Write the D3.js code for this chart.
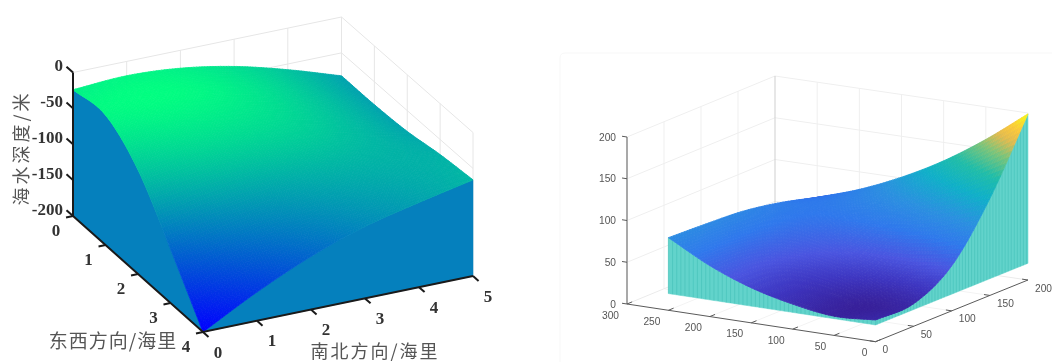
<!DOCTYPE html>
<html>
<head>
<meta charset="utf-8">
<script src="https://cdn.jsdelivr.net/npm/d3@7/dist/d3.min.js"></script>
<style>
  html, body { margin: 0; padding: 0; background: #fff; overflow: hidden; }
  svg { display: block; }
</style>
</head>
<body>
<svg id="chart" width="1052" height="362"></svg>
<script>
// left panel: sea depth (rows = east-west 0..4, columns = north-south 0..5)
const eastWest = [0, 1, 2, 3, 4];
const northSouth = [0, 1, 2, 3, 4, 5];
const depthTicks = [0, -50, -100, -150, -200];
const depth = [
    [-24, -20, -25, -38, -58, -82],
    [-19, -16, -22, -37, -58, -82],
    [-55, -44, -43, -48, -62, -79],
    [-125, -102, -87, -75, -71, -71],
    [-200, -160, -126, -100, -82, -66]
];

// right panel: rows = a 0..250, columns = b 0..200
const aGrid = [0, 50, 100, 150, 200, 250];
const bGrid = [0, 50, 100, 150, 200];
const aTicks = [0, 50, 100, 150, 200, 250, 300];
const bTicks = [0, 50, 100, 150, 200];
const heightTicks = [0, 50, 100, 150, 200];
const height = [
    [26, 27, 54, 116, 199],
    [23, 24, 47, 96, 161],
    [30, 31, 47, 82, 128],
    [42, 42, 53, 74, 101],
    [61, 60, 64, 71, 79],
    [87, 85, 82, 74, 62]
];
const wallBase = 20;

const colorLevels = [22, 35, 50, 70, 90, 115, 135, 155, 170, 182, 194];
const colorStops = ["#37209a", "#3d35c0", "#4a55e0", "#2f78ec", "#2b8fe0", "#0fb0c8", "#20bda8", "#7cc47a", "#e0bb50", "#fbc83a", "#f5ee20"];

const svg = d3.select("#chart");

// floor corners are given as [u0 v0, u1 v0, u0 v1, u1 v1]
function makeProjection(uDomain, vDomain, zDomain, corners, zPixels) {
    const u = d3.scaleLinear().domain(uDomain).range([0, 1]);
    const v = d3.scaleLinear().domain(vDomain).range([0, 1]);
    const z = d3.scaleLinear().domain(zDomain).range([0, zPixels]);
    return (a, b, c) => {
        const s = u(a), t = v(b);
        const x = (1 - t) * ((1 - s) * corners[0][0] + s * corners[1][0]) + t * ((1 - s) * corners[2][0] + s * corners[3][0]);
        const y = (1 - t) * ((1 - s) * corners[0][1] + s * corners[1][1]) + t * ((1 - s) * corners[2][1] + s * corners[3][1]);
        return [x, y - z(c)];
    };
}

function catmull(vals, f) {
    const n = vals.length - 1;
    const i = Math.min(Math.floor(f), n - 1), t = f - i;
    const p0 = i > 0 ? vals[i - 1] : 2 * vals[0] - vals[1];
    const p1 = vals[i], p2 = vals[i + 1];
    const p3 = i + 2 <= n ? vals[i + 2] : 2 * vals[n] - vals[n - 1];
    return 0.5 * (2 * p1 + (p2 - p0) * t + (2 * p0 - 5 * p1 + 4 * p2 - p3) * t * t + (3 * p1 - p0 - 3 * p2 + p3) * t * t * t);
}

// value of a table at fractional row, col
function lookup(table, r, c) {
    return catmull(table.map(row => catmull(row, c)), r);
}

const line = d3.line();

function drawSurface(g, table, us, vs, proj, color, sub, uOrder, vOrder) {
    const uPos = d3.scaleLinear().domain([0, us.length - 1]).range([us[0], us[us.length - 1]]);
    const vPos = d3.scaleLinear().domain([0, vs.length - 1]).range([vs[0], vs[vs.length - 1]]);
    const quads = [];
    const nu = (us.length - 1) * sub, nv = (vs.length - 1) * sub;
    d3.range(nu).forEach(i => d3.range(nv).forEach(j => {
        const r0 = i / sub, r1 = (i + 1) / sub, c0 = j / sub, c1 = (j + 1) / sub;
        const zs = [[r0, c0], [r1, c0], [r1, c1], [r0, c1]].map(d => lookup(table, d[0], d[1]));
        const pts = [[r0, c0], [r1, c0], [r1, c1], [r0, c1]].map((d, k) => proj(uPos(d[0]), vPos(d[1]), zs[k]));
        quads.push({ i, j, pts, z: d3.mean(zs) });
    }));
    quads.sort((a, b) => uOrder * (a.i - b.i) || vOrder * (a.j - b.j));
    g.selectAll("path.cell")
        .data(quads)
        .join("path")
        .attr("class", "cell")
        .attr("d", d => line(d.pts) + "Z")
        .attr("fill", d => color(d.z))
        .attr("stroke", d => color(d.z))
        .attr("stroke-width", 0.8);
}

// curtain below one edge of the surface
function edgePoints(table, us, vs, proj, edge, base, sub) {
    const uPos = d3.scaleLinear().domain([0, us.length - 1]).range([us[0], us[us.length - 1]]);
    const vPos = d3.scaleLinear().domain([0, vs.length - 1]).range([vs[0], vs[vs.length - 1]]);
    const n = (edge.along == "u" ? us.length - 1 : vs.length - 1) * sub;
    return d3.range(n + 1).map(k => {
        const f = k / sub;
        const r = edge.along == "u" ? f : edge.row;
        const c = edge.along == "u" ? edge.col : f;
        const a = uPos(r), b = vPos(c);
        return { top: proj(a, b, lookup(table, r, c)), bottom: proj(a, b, base) };
    });
}

function drawWall(g, pts, fill) {
    g.append("path")
        .attr("d", line(pts.map(d => d.top).concat(pts.map(d => d.bottom).reverse())) + "Z")
        .attr("fill", fill)
        .attr("stroke", fill)
        .attr("stroke-width", 0.5);
}

function gridLine(g, pts, col, w) {
    g.append("path").attr("d", line(pts)).attr("fill", "none").attr("stroke", col).attr("stroke-width", w);
}

function label(g, txt, p, anchor, font, size, weight, col) {
    return g.append("text")
        .attr("x", p[0]).attr("y", p[1])
        .attr("text-anchor", anchor)
        .attr("dominant-baseline", "central")
        .attr("font-family", font)
        .attr("font-size", size)
        .attr("font-weight", weight)
        .attr("fill", col)
        .text(txt);
}

// ---------- left panel
(function () {
    const g = svg.append("g").style("filter", "blur(0.35px)");
    const proj = makeProjection([0, 4], [0, 5], [-200, 0],
        [[73, 216], [203, 332], [341.5, 160.5], [473, 276]], 143.5);
    const color = d3.scaleLinear().domain([-200, -14]).range(["#0000ff", "#00ff80"]).clamp(true);
    const gridCol = "#e6e6e6";

    depthTicks.forEach(z => {
        gridLine(g, [proj(0, 0, z), proj(0, 5, z), proj(4, 5, z)], gridCol, 1);
    });
    northSouth.slice(1).forEach(n => gridLine(g, [proj(0, n, -200), proj(0, n, 0)], gridCol, 1));
    eastWest.slice(1).forEach(e => gridLine(g, [proj(e, 5, -200), proj(e, 5, 0)], gridCol, 1));

    const wall = "#0580bd";
    drawWall(g, edgePoints(depth, eastWest, northSouth, proj, { along: "u", col: 0 }, -200, 20), wall);
    drawWall(g, edgePoints(depth, eastWest, northSouth, proj, { along: "v", row: 4 }, -200, 20), wall);
    drawSurface(g, depth, eastWest, northSouth, proj, color, 20, 1, -1);

    const ax = "#1a1a1a";
    gridLine(g, [proj(0, 0, 0), proj(0, 0, -200)], ax, 2);
    gridLine(g, [proj(0, 0, -200), proj(4, 0, -200), proj(4, 5, -200)], ax, 2);
    depthTicks.forEach(z => gridLine(g, [proj(0, 0, z), proj(-0.2, 0, z)], ax, 2));
    eastWest.forEach(e => gridLine(g, [proj(e, 0, -200), proj(e, -0.13, -200)], ax, 2));
    northSouth.forEach(n => gridLine(g, [proj(4, n, -200), proj(4.17, n, -200)], ax, 2));

    const serif = "'Liberation Serif', serif";
    depthTicks.forEach(z => {
        const p = proj(0, 0, z);
        label(g, z, [63, p[1] - 7], "end", serif, 17, "bold", "#333");
    });
    eastWest.forEach(e => {
        const p = proj(e, 0, -200);
        label(g, e, [p[0] - 17, p[1] + 14], "middle", serif, 17, "bold", "#333");
    });
    northSouth.forEach(n => {
        const p = proj(4, n, -200);
        label(g, n, [p[0] + 15, p[1] + 20], "middle", serif, 17, "bold", "#333");
    });

    const cjk = "'Noto Sans CJK SC', sans-serif";
    label(g, "东西方向/海里", [113, 339], "middle", cjk, 19, "normal", "#555").attr("letter-spacing", 1);
    label(g, "南北方向/海里", [375, 350], "middle", cjk, 18, "normal", "#555").attr("letter-spacing", 2);
    g.append("text")
        .attr("transform", "translate(20,148) rotate(-90)")
        .attr("text-anchor", "middle")
        .attr("dominant-baseline", "central")
        .attr("font-family", cjk)
        .attr("font-size", 18)
        .attr("letter-spacing", 3)
        .attr("fill", "#555")
        .text("海水深度/米");
})();

// ---------- right panel
(function () {
    const g = svg.append("g").style("filter", "blur(0.3px)");
    const proj = makeProjection([0, 300], [0, 200], [0, 200],
        [[875.5, 341.7], [627, 304], [1028, 280], [775, 243]], 167);
    const color = d3.scaleLinear().domain(colorLevels).range(colorStops).clamp(true);

    // faint figure frame
    g.append("path").attr("d", "M560,362V58Q560,53 565,53H1052").attr("fill", "none").attr("stroke", "#f7f7f7");

    const gridCol = "#efefef";
    heightTicks.slice(1).forEach(z => gridLine(g, [proj(300, 0, z), proj(300, 200, z), proj(0, 200, z)], gridCol, 1));
    bTicks.slice(1, -1).forEach(b => gridLine(g, [proj(300, b, 0), proj(300, b, 200)], gridCol, 1));
    aTicks.slice(1, -1).forEach(a => gridLine(g, [proj(a, 200, 0), proj(a, 200, 200)], gridCol, 1));
    gridLine(g, [proj(300, 200, 0), proj(300, 200, 200)], "#cfcfcf", 1);
    aTicks.slice(1, -1).forEach(a => gridLine(g, [proj(a, 0, 0), proj(a, 200, 0)], "#f3f3f3", 1));
    bTicks.slice(1, -1).forEach(b => gridLine(g, [proj(0, b, 0), proj(300, b, 0)], "#f3f3f3", 1));
    gridLine(g, [proj(300, 0, 0), proj(300, 200, 0), proj(0, 200, 0)], "#ebebeb", 1);

    const wall = "#62d3cb";
    const wallA = edgePoints(height, aGrid, bGrid, proj, { along: "u", col: 0 }, wallBase, 20);
    const wallB = edgePoints(height, aGrid, bGrid, proj, { along: "v", row: 0 }, wallBase, 25);
    drawWall(g, wallA, wall);
    drawWall(g, wallB, wall);
    // mesh stripes on the curtains
    wallA.concat(wallB).forEach((d, i) => {
        if (i % 2 == 0) gridLine(g, [d.top, d.bottom], "#3fbdb5", 0.5);
    });
    drawSurface(g, height, aGrid, bGrid, proj, color, 14, -1, -1);

    const ax = "#5a5a5a";
    gridLine(g, [proj(300, 0, 0), proj(300, 0, 200)], "#a9a9a9", 2);
    gridLine(g, [proj(300, 0, 0), proj(0, 0, 0), proj(0, 200, 0)], ax, 1);
    heightTicks.forEach(z => gridLine(g, [proj(300, 0, z), proj(306, 0, z)], ax, 1));
    aTicks.forEach(a => gridLine(g, [proj(a, 0, 0), proj(a, 7, 0)], ax, 1));
    bTicks.forEach(b => gridLine(g, [proj(0, b, 0), proj(7, b, 0)], ax, 1));

    const sans = "'Liberation Sans', sans-serif";
    heightTicks.forEach(z => label(g, z, [616, proj(300, 0, z)[1]], "end", sans, 10.2, "normal", "#555"));
    aTicks.forEach(a => {
        const p = proj(a, 0, 0);
        label(g, a, [p[0] - 8, p[1] + 11], "end", sans, 10.2, "normal", "#555");
    });
    bTicks.forEach(b => {
        const p = proj(0, b, 0);
        label(g, b, [p[0] + 7, p[1] + 8], "start", sans, 10.2, "normal", "#555");
    });
})();
</script>
</body>
</html>
